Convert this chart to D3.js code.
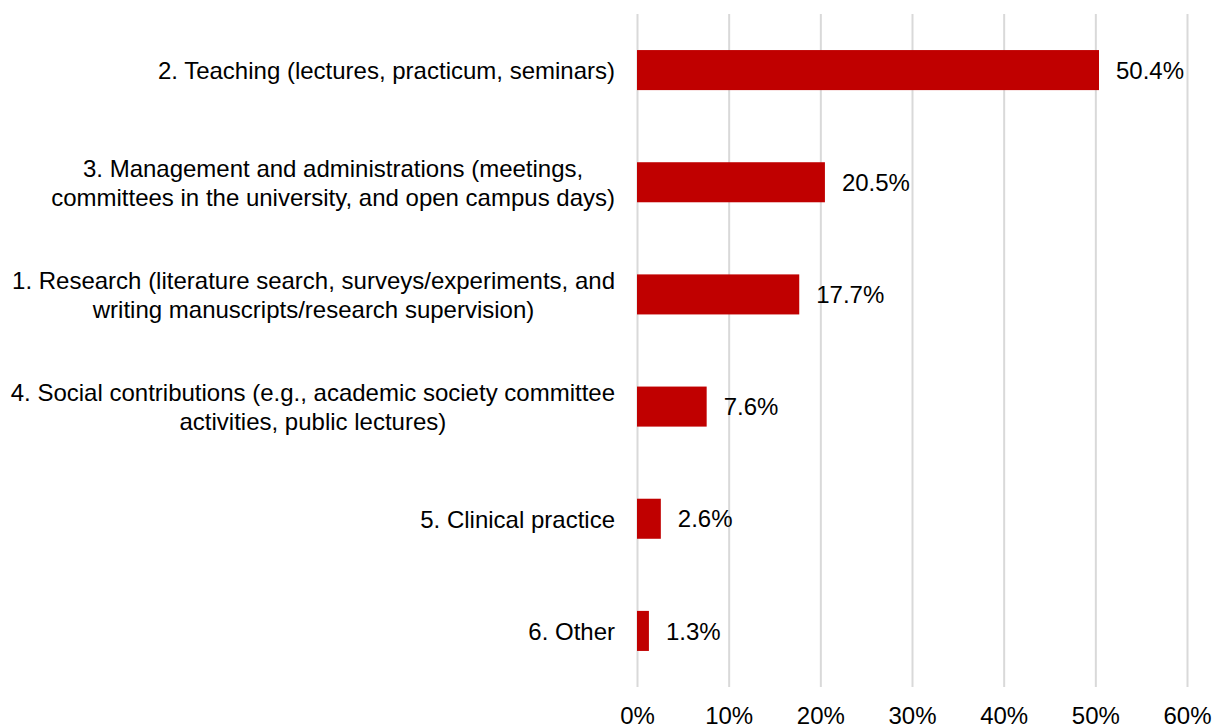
<!DOCTYPE html>
<html><head><meta charset="utf-8">
<script src="https://cdn.jsdelivr.net/npm/d3@7/dist/d3.min.js"></script>
<style>body{margin:0;background:#fff}svg{display:block}text{font-family:"Liberation Sans",Arial,sans-serif}</style>
</head><body><svg id="c" width="1214" height="726"></svg>
<script>
const categories = [
  ["2. Teaching (lectures, practicum, seminars)"],
  ["3. Management and administrations (meetings,", "committees in the university, and open campus days)"],
  ["1. Research (literature search, surveys/experiments, and", "writing manuscripts/research supervision)"],
  ["4. Social contributions (e.g., academic society committee", "activities, public lectures)"],
  ["5. Clinical practice"],
  ["6. Other"]
];
const values = [50.4, 20.5, 17.7, 7.6, 2.6, 1.3];
const xTicks = [0, 10, 20, 30, 40, 50, 60];
const valueLabels = ["50.4%", "20.5%", "17.7%", "7.6%", "2.6%", "1.3%"];

(function () {
const svg = d3.select("#c");
const plotLeft = 637, plotRight = 1187, plotTop = 14, plotBottom = 687;
const fs = 24;
const x = d3.scaleLinear().domain([0, 60]).range([plotLeft, plotRight]);
const y = d3.scaleBand().domain(d3.range(categories.length)).range([plotTop, plotBottom]).paddingInner(0.643).paddingOuter(0.3215);

// gridlines
svg.append("g").attr("transform", `translate(0,${plotBottom})`)
  .call(d3.axisBottom(x).tickValues(xTicks).tickSize(-(plotBottom - plotTop)).tickFormat(""))
  .call(g => g.select(".domain").remove())
  .call(g => g.selectAll(".tick line").attr("stroke", "#d9d9d9").attr("stroke-width", 2));

// tick labels
svg.append("g").attr("transform", `translate(0,${plotBottom})`)
  .call(d3.axisBottom(x).tickValues(xTicks).tickSize(0).tickPadding(0).tickFormat(d => d + "%"))
  .call(g => g.select(".domain").remove())
  .call(g => g.selectAll(".tick text").attr("font-size", fs).attr("fill", "#000")
     .attr("font-family", '"Liberation Sans",Arial,sans-serif').attr("dy", null).attr("y", 37));

// bars
svg.append("g").selectAll("rect").data(values).join("rect")
  .attr("x", x(0)).attr("y", (d, i) => y(i)).attr("width", d => x(d) - x(0)).attr("height", y.bandwidth())
  .attr("fill", "#c00000");

// value labels
svg.append("g").selectAll("text").data(values).join("text")
  .attr("x", d => x(d) + 17).attr("y", (d, i) => y(i) + y.bandwidth() / 2)
  .attr("dy", "0.36em").attr("font-size", fs).attr("fill", "#000")
  .text((d, i) => valueLabels[i]);

// category labels
const labelRight = 615, lh = 29;
categories.forEach((lines, i) => {
  const g = svg.append("g");
  const cy = y(i) + y.bandwidth() / 2;
  const ts = lines.map((l, j) => g.append("text").attr("font-size", fs).attr("fill", "#000")
    .attr("text-anchor", "middle").attr("dy", "0.38em")
    .attr("y", cy + (j - (lines.length - 1) / 2) * lh).text(l));
  const w = d3.max(ts, t => t.node().getComputedTextLength());
  ts.forEach(t => t.attr("x", labelRight - w / 2));
});
})();
</script></body></html>
